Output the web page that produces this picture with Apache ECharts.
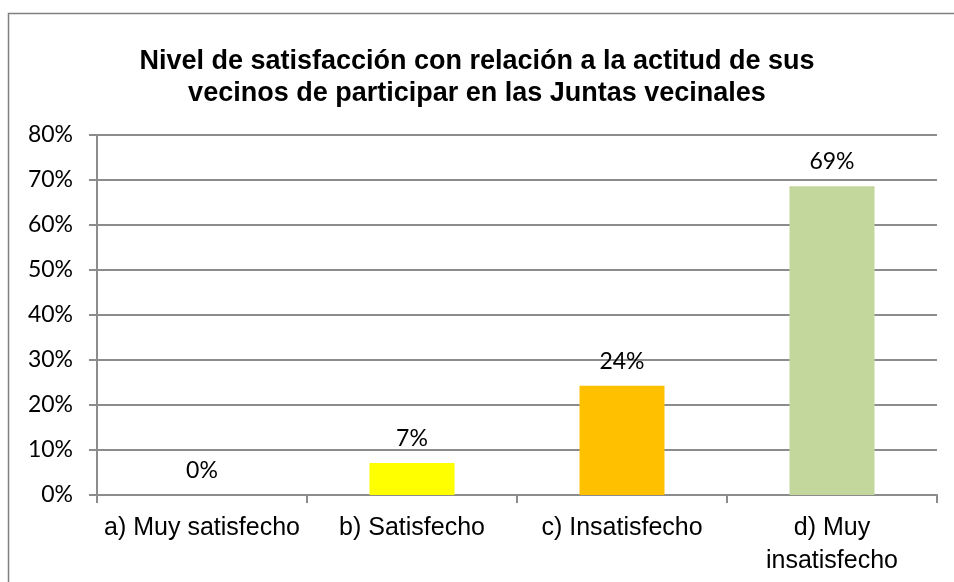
<!DOCTYPE html>
<html>
<head>
<meta charset="utf-8">
<script src="https://cdn.jsdelivr.net/npm/echarts@6/dist/echarts.min.js"></script>
<style>
  html, body { margin: 0; padding: 0; background: #fff; }
  #chart { width: 954px; height: 582px; }
</style>
</head>
<body>
<div id="chart"></div>
<script>
const categories = ['a) Muy satisfecho', 'b) Satisfecho', 'c) Insatisfecho', 'd) Muy\ninsatisfecho'];
const values = [0, 7.1, 24.3, 68.6];
const barColors = ['#FFFF00', '#FFFF00', '#FFC000', '#C3D69B'];
const yTicks = [0, 10, 20, 30, 40, 50, 60, 70, 80];

const chart = echarts.init(document.getElementById('chart'));
const gray = '#8c8c8c';

const option = {
  backgroundColor: '#fff',
  animation: false,
  title: {
    text: 'Nivel de satisfacción con relación a la actitud de sus\nvecinos de participar en las Juntas vecinales',
    left: 'center',
    top: 41,
    textStyle: {
      fontFamily: 'Liberation Sans',
      fontWeight: 'bold',
      fontSize: 27,
      lineHeight: 32,
      color: '#000'
    }
  },
  graphic: [{
    type: 'rect',
    shape: { x: 8.5, y: 13.5, width: 960, height: 600 },
    style: { fill: 'none', stroke: '#7f7f7f', lineWidth: 1.5 },
    silent: true
  }],
  grid: { left: 97, right: 17, top: 135, bottom: 87 },
  xAxis: {
    type: 'category',
    data: categories,
    axisLine: { lineStyle: { color: gray, width: 2 } },
    axisTick: { show: true, length: 8, lineStyle: { color: gray, width: 2 } },
    axisLabel: {
      fontFamily: 'Liberation Sans',
      fontSize: 25,
      lineHeight: 33,
      color: '#000',
      margin: 17,
      interval: 0
    }
  },
  yAxis: {
    type: 'value',
    min: yTicks[0],
    max: yTicks[yTicks.length - 1],
    interval: 10,
    axisLine: { show: true, lineStyle: { color: gray, width: 2 } },
    axisTick: { show: true, length: 8, lineStyle: { color: gray, width: 2 } },
    splitLine: { lineStyle: { color: gray, width: 2 } },
    axisLabel: {
      formatter: '{value}%',
      fontFamily: 'Lato',
      fontSize: 23,
      color: '#000',
      margin: 24
    }
  },
  series: [{
    type: 'bar',
    barWidth: 85,
    data: values.map((v, i) => ({ value: v, itemStyle: { color: barColors[i] } })),
    label: {
      show: true,
      position: 'top',
      distance: 13,
      fontFamily: 'Lato',
      fontSize: 23,
      color: '#000',
      formatter: p => Math.round(p.value) + '%'
    }
  }]
};

chart.setOption(option);
</script>
</body>
</html>
